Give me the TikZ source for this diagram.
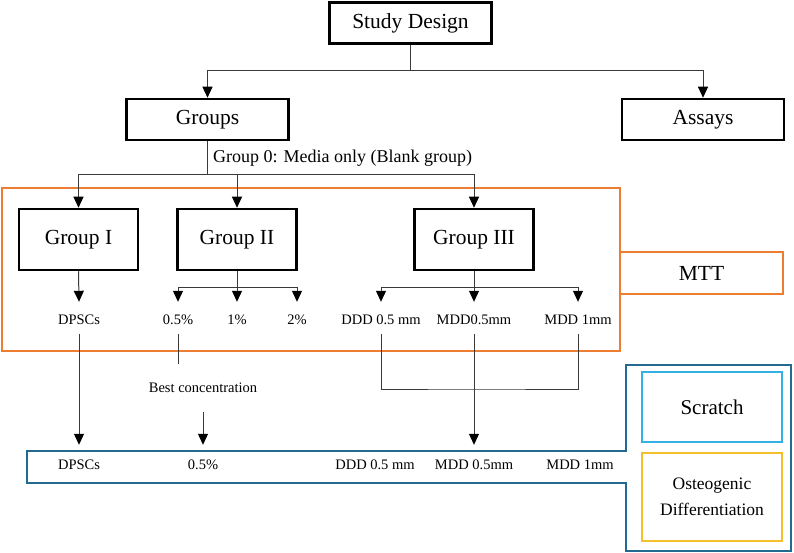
\documentclass[tikz,border=0pt]{standalone}
\usepackage{fontspec}
\setmainfont{Liberation Serif}
\usetikzlibrary{arrows.meta}
\definecolor{orng}{HTML}{ED7D31}
\definecolor{dblue}{HTML}{236A92}
\definecolor{cyanb}{HTML}{33B0E4}
\definecolor{yelb}{HTML}{F3BF2A}
\definecolor{connc}{HTML}{3A3A3A}
\newcommand{\fz}[2]{\fontsize{#1}{#2}\selectfont}
\begin{document}
\begin{tikzpicture}[x=1pt,y=-1pt,
  topbox/.style={draw=black,line width=2.5pt,minimum width=162pt,minimum height=41pt,inner sep=0pt,font=\fz{21.5}{25}},
  grpbox/.style={draw=black,line width=2.5pt,minimum width=119pt,minimum height=61pt,inner sep=0pt,font=\fz{21.5}{25}},
  conn/.style={draw=connc,line width=1pt},
  arr/.style={-{Triangle[width=10pt,length=11pt,fill=black,color=black]}},
  labtwo/.style={anchor=base,inner sep=0pt,text height=22pt,text depth=10pt,font=\fz{14.5}{17}},
  labthree/.style={anchor=base,inner sep=0pt,text height=24pt,text depth=5pt,font=\fz{14.5}{17}},
  obox/.style={draw=orng,line width=2.5pt},
  bbox/.style={draw=dblue,line width=2.5pt}]
\useasboundingbox (0,0) rectangle (794,553);

% top level
\node[topbox] (sd) at (410.5,23) {Study Design};
\node[topbox] (groups) at (207.5,119.5) {Groups};
\node[topbox] (assays) at (703,119.5) {Assays};
\coordinate (j1) at (410.5,71);
\draw[conn] (sd.south) -- (j1);
\draw[conn,arr] (j1) -| (groups.north);
\draw[conn,arr] (j1) -| (assays.north);

% orange region
\draw[obox] (2,188) rectangle (620,351);
\node[draw=orng,line width=2.5pt,minimum width=163pt,minimum height=42pt,inner sep=0pt,font=\fz{21.5}{25}] (mtt) at (701.5,273) {MTT};

% groups
\node[anchor=base west,inner sep=0pt,font=\fz{18}{21}] (g0) at (213,163) {Group 0: Media only (Blank group)};
\node[grpbox] (g1) at (78.5,239.5) {Group I};
\node[grpbox] (g2) at (237,239.5) {Group II};
\node[grpbox] (g3) at (474,239.5) {Group III};
\coordinate (j2) at (207.5,175);
\draw[conn] (groups.south) -- (j2);
\draw[conn,arr] (j2) -| (g1.north);
\draw[conn,arr] (j2) -| (g2.north);
\draw[conn,arr] (j2) -| (g3.north);

% level two labels
\node[labtwo] (ldpsc) at (79,324) {DPSCs};
\node[labtwo] (l05) at (178,324) {0.5\%};
\node[labtwo] (l1) at (237,324) {1\%};
\node[labtwo] (l2) at (297,324) {2\%};
\node[labtwo] (lddd) at (381,324) {DDD 0.5 mm};
\node[labtwo] (lmdd05) at (474,324) {MDD0.5mm};
\node[labtwo] (lmdd1) at (578,324) {MDD 1mm};

\draw[conn,arr] (g1.south) -- (ldpsc.north);
\coordinate (j3) at (237,287);
\draw[conn] (g2.south) -- (j3);
\draw[conn,arr] (j3) -| (l05.north);
\draw[conn,arr] (j3) -- (l1.north);
\draw[conn,arr] (j3) -| (l2.north);
\coordinate (j4) at (474,287);
\draw[conn] (g3.south) -- (j4);
\draw[conn,arr] (j4) -| (lddd.north);
\draw[conn,arr] (j4) -- (lmdd05.north);
\draw[conn,arr] (j4) -| (lmdd1.north);

% bottom band
\draw[bbox] (27,451) -- (626,451) -- (626,365) -- (791,365) -- (791,551) -- (626,551) -- (626,483) -- (27,483) -- cycle;
\node[draw=cyanb,line width=2.5pt,minimum width=140pt,minimum height=70pt,inner sep=0pt,font=\fz{21}{25}] (scr) at (712,407) {Scratch};
\node[draw=yelb,line width=2.5pt,minimum width=140pt,minimum height=88pt,inner sep=0pt,align=center,font=\fz{17.5}{26}] (ost) at (712,497) {Osteogenic\\Differentiation};

\node[labthree] (bdpsc) at (79,469) {DPSCs};
\node[labthree] (b05) at (203,469) {0.5\%};
\node[labthree] (bddd) at (375,469) {DDD 0.5 mm};
\node[labthree] (bmdd05) at (474,469) {MDD 0.5mm};
\node[labthree] (bmdd1) at (580,469) {MDD 1mm};

\draw[conn,arr] (ldpsc.south) -- (bdpsc.north);
\coordinate (e05) at (178,364);
\draw[conn] (l05.south) -- (e05);
\node[inner sep=0pt,font=\fz{14.5}{17}] (best) at (203,388) {Best concentration};
\coordinate (bs) at (203,412);
\draw[conn,arr] (bs) -- (b05.north);
\coordinate (jb) at (474,389);
\draw[conn] (lddd.south) |- (jb) -| (lmdd1.south);
\draw[conn,arr] (lmdd05.south) -- (bmdd05.north);
\end{tikzpicture}
\end{document}
